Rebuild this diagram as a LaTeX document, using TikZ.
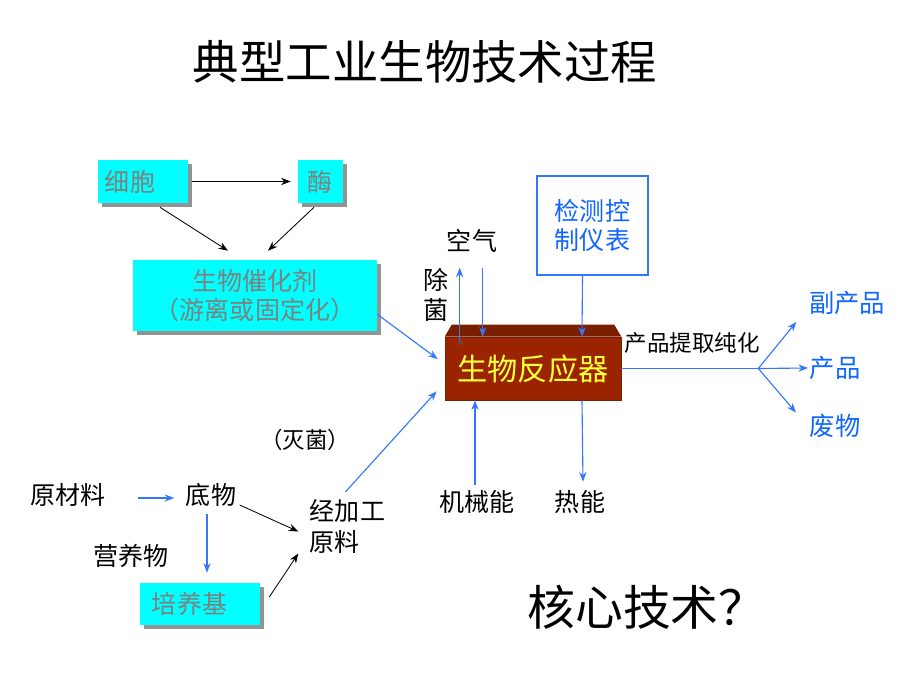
\documentclass[tikz,border=0pt]{standalone}
\usepackage{fontspec}
\setmainfont{Noto Sans CJK SC}
\usetikzlibrary{arrows.meta}
\usetikzlibrary{calc}
\usetikzlibrary{shadows}
\usetikzlibrary{positioning}
\definecolor{boxcyan}{RGB}{0,255,255}
\definecolor{boxtext}{RGB}{128,128,128}
\definecolor{lineblue}{RGB}{51,119,255}
\definecolor{textblue}{RGB}{17,102,255}
\definecolor{reactorred}{RGB}{155,36,0}
\definecolor{reactortop}{RGB}{122,30,0}
\definecolor{reactortext}{RGB}{255,255,60}
\tikzset{word/.style={inner sep=1pt,font=\fontsize{17.8}{20.6}\selectfont}}
\tikzset{cyan box/.style={word,fill=boxcyan,text=boxtext,
                          drop shadow={shadow xshift=0.1cm,shadow yshift=-0.1cm,
                                       fill=gray!85,opacity=1}}}
\tikzset{flow/.style={draw,line width=0.6pt,
                      -{Stealth[length=2.4mm,width=1.8mm]}}}
\tikzset{blue flow/.style={flow,draw=lineblue,line width=0.8pt}}
\newcommand{\bigsong}{\fontsize{33}{36}\selectfont}

\begin{document}
\begin{tikzpicture}
      [
      x=0.025cm,y=-0.025cm,
      blue word/.style={word,text=textblue,font=\fontsize{18}{20.6}\selectfont},
      ]
      \useasboundingbox (0,0) rectangle (920,690);

      % title
      \node [word,font=\bigsong] (title) at (425,62) {典型工业生物技术过程};

      % boxes
      \node [cyan box,minimum width=2.25cm,minimum height=1.075cm,
             inner xsep=0.175cm,text width=1.9cm,align=left] (cell) at (143,181.5) {细胞};
      \node [cyan box,minimum width=1.125cm,minimum height=1.075cm] (enzyme) at (320.5,181.5) {酶};
      \node [cyan box,minimum width=6.1cm,minimum height=1.775cm,align=center] (catalyst)
            at (255,295.5) {生物催化剂\\（游离或固定化）};
      \node [cyan box,minimum width=3cm,minimum height=1.05cm,
             inner xsep=0.3cm,text width=2.4cm,align=left] (medium) at (200,604) {培养基};
      \node [word,draw=lineblue,line width=0.8pt,text=textblue,fill=white,
             minimum width=2.775cm,minimum height=2.475cm,align=center] (monitor)
            at (592.5,225.5) {检测控\\制仪表};

      % reactor
      \node [word,fill=reactorred,draw=reactortop,text=reactortext,
             font=\fontsize{21.5}{24}\selectfont,
             minimum width=4.4cm,minimum height=1.575cm] (reactor) at (533,368.5) {生物反应器};
      \fill [reactortop] (reactor.north west) -- ++(7,-12) --
      ($(reactor.north east)+(-7,-12)$) -- (reactor.north east) -- cycle;
      \fill [reactortop!70!gray] ($(reactor.north west)+(13,3)$) rectangle +(5,5);

      % labels
      \node [word] (air) at (472,241) {空气};
      \node [word,align=center,font=\fontsize{17.8}{21.5}\selectfont] (sterilize) at (436,295) {除\\菌};
      \node [word,font=\fontsize{16}{18}\selectfont] (extract) at (692,343) {产品提取纯化};
      \node [blue word] (byprod) at (847,303) {副产品};
      \node [blue word] (product) at (835,368) {产品};
      \node [blue word] (waste) at (835,426) {废物};
      \node [word] (mech) at (477,502) {机械能};
      \node [word] (heat) at (580,502) {热能};
      \node [word,font=\fontsize{16}{18}\selectfont] (kill) at (305,440) {（灭菌）};
      \node [word] (rawmat) at (68,495) {原材料};
      \node [word] (substrate) at (211,495) {底物};
      \node [word] (nutrient) at (131,556) {营养物};
      \node [word,align=left,font=\fontsize{17.8}{22}\selectfont] (feed) at (347.5,526.5) {经加工\\原料};
      \node [word,font=\fontsize{34}{36}\selectfont] (core) at (647,607) {核心技术？};

      % edges
      \path [flow] ($(cell.east)+(4,0)$) -- ($(enzyme.west)+(-7,0)$);
      \path [flow] ($(cell.south)+(17,4)$) -- ($(catalyst.north)+(-27,-9)$);
      \path [flow] ($(enzyme.south)+(-6.5,4)$) -- ($(catalyst.north)+(13,-9)$);
      \path [blue flow] ($(catalyst.south east)+(0,-17)$) -- ($(reactor.west)+(-7,-9.5)$);

      \path [blue flow] ($(reactor.north west)+(15,4)$) -- ($(reactor.north west)+(15,-69)$);
      \path [blue flow] ($(reactor.north west)+(38,-69)$) -- ($(reactor.north west)+(38,0)$);
      \path [blue flow] ($(monitor.south)+(-10,0)$) -- ($(reactor.north)+(49,0)$);

      \coordinate (fork) at ($(reactor.east)+(137,0)$);
      \draw [lineblue,line width=0.8pt] (reactor.east) -- (fork);
      \path [blue flow] (fork) -- ($(byprod.south west)+(-11,5.5)$);
      \path [blue flow] (fork) -- (product.west);
      \path [blue flow] (fork) -- ($(waste.north west)+(-12,0)$);

      \path [blue flow] ($(mech.north)+(-2,-4)$) -- ($(reactor.south)+(-58,0)$);
      \path [blue flow] ($(reactor.south)+(49,0)$) -- ($(heat.north)+(3,-7)$);

      \path [blue flow] ($(rawmat.east)+(31,3)$) -- ($(substrate.west)+(-10,3)$);
      \path [blue flow] ($(substrate.south)+(-4,6)$) -- ($(medium.north)+(7,-10)$);
      \path [flow] ($(substrate.east)+(2,10)$) -- ($(feed.west)+(-10,5)$);
      \path [flow] ($(medium.east)+(9,-7)$) -- ($(feed.west)+(-10,27)$);
      \path [blue flow] ($(feed.north)+(-2,-6)$) -- ($(reactor.south west)+(-8,-9)$);

    \end{tikzpicture}
\end{document}
